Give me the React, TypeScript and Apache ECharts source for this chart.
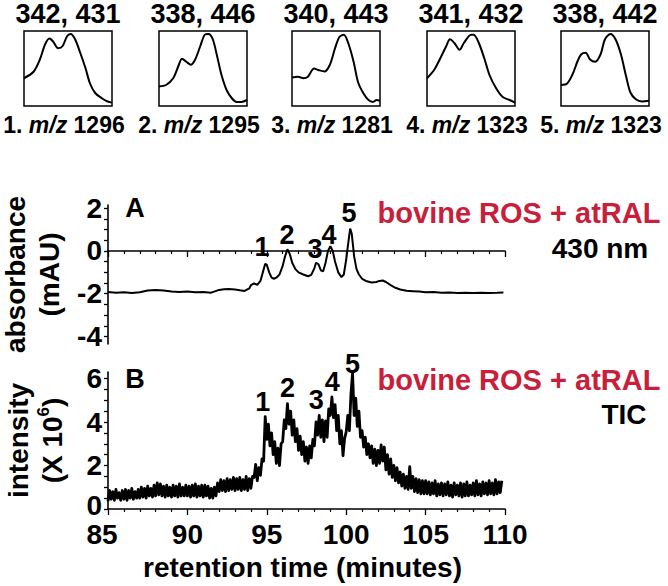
import React, { useEffect, useRef } from "react";
import * as echarts from "echarts";

// ---------- data ----------
// Panel A: absorbance at 430 nm (mAU) vs retention time (min)
const ABS_TIME = [
  85.0, 85.5, 86.0, 86.5, 87.0, 87.5, 88.0, 88.5, 89.0, 89.5, 90.0, 90.5, 91.0, 91.5, 92.0, 92.3, 92.6, 93.0, 93.3,
  93.6, 93.9, 94.0, 94.2, 94.4, 94.6, 94.75, 94.9, 95.0, 95.15, 95.3, 95.45, 95.6, 95.8, 96.0, 96.15, 96.3, 96.45,
  96.6, 96.8, 97.0, 97.3, 97.6, 97.8, 98.0, 98.1, 98.25, 98.4, 98.55, 98.7, 98.85, 99.0, 99.15, 99.3, 99.5, 99.7,
  99.85, 100.0, 100.15, 100.25, 100.35, 100.5, 100.65, 100.8, 101.0, 101.3, 101.6, 101.9, 102.1, 102.3, 102.5,
  102.8, 103.1, 103.4, 103.8, 104.2, 104.6, 105.0, 105.5, 106.0, 106.5, 107.0, 107.5, 108.0, 108.5, 109.0, 109.5,
  109.9,
];
const ABS_VALUE = [
  -1.92, -1.95, -1.93, -1.96, -1.93, -1.85, -1.83, -1.85, -1.9, -1.92, -1.9, -1.93, -1.92, -1.95, -1.82, -1.79,
  -1.78, -1.8, -1.84, -1.87, -1.75, -1.6, -1.52, -1.58, -1.4, -1.0, -0.6, -0.65, -1.0, -1.25, -1.3, -1.25, -1.1,
  -0.7, -0.25, 0.08, -0.15, -0.55, -0.85, -1.0, -1.1, -1.18, -1.12, -0.8, -0.55, -0.62, -0.9, -0.95, -0.55, 0.0,
  0.22, 0.0, -0.5, -1.0, -1.22, -1.1, -0.4, 0.5, 1.05, 0.8, -0.25, -0.85, -1.1, -1.3, -1.42, -1.47, -1.45, -1.4,
  -1.38, -1.45, -1.6, -1.72, -1.8, -1.86, -1.88, -1.9, -1.93, -1.92, -1.95, -1.94, -1.96, -1.95, -1.97, -1.95,
  -1.96, -1.95, -1.94,
];

// Panel B: total ion current (x 10^6), sampled every 0.1 min from 85.0 min
const TIC_START = 85.0;
const TIC_STEP = 0.1;
const TIC_VALUE = [
  0.35, 0.85, 0.45, 0.8, 0.4, 0.9, 0.5, 0.75, 0.4, 0.85,
  0.45, 0.9, 0.4, 0.85, 0.5, 0.95, 0.45, 0.8, 0.5, 0.9,
  0.5, 1.0, 0.55, 0.95, 0.5, 1.05, 0.6, 0.95, 0.55, 1.1,
  0.6, 1.2, 0.65, 1.15, 0.6, 1.05, 0.55, 1.1, 0.6, 1.0,
  0.55, 1.1, 0.6, 1.05, 0.55, 1.15, 0.6, 1.0, 0.6, 1.1,
  0.6, 1.05, 0.55, 1.1, 0.6, 1.15, 0.55, 1.05, 0.6, 1.1,
  0.55, 1.1, 0.6, 1.05, 0.5, 0.95, 0.5, 1.0, 0.6, 1.2,
  0.8, 1.35, 0.85, 1.3, 0.8, 1.4, 0.85, 1.35, 0.9, 1.45,
  0.85, 1.4, 0.9, 1.45, 0.85, 1.35, 0.9, 1.5, 0.85, 1.4,
  0.95, 1.5, 1.45, 2.05, 1.3, 1.9, 1.55, 2.3, 2.2, 4.25,
  3.2, 3.9, 2.9, 3.5, 2.5, 3.1, 2.1, 2.8, 2.0, 3.0,
  3.1, 4.1, 3.7, 4.85, 3.9, 4.5, 3.4, 4.1, 3.1, 3.7,
  2.7, 3.35, 2.5, 3.1, 2.2, 2.85, 2.1, 2.9, 2.35, 3.2,
  2.9, 4.0, 3.4, 4.3, 3.3, 4.1, 3.1, 4.05, 3.3, 4.6,
  4.3, 5.15, 4.2, 4.8, 3.6, 4.3, 3.0, 3.6, 2.45, 3.25,
  3.55, 4.3, 3.6, 5.3, 6.25, 4.3, 5.1, 3.8, 4.5, 3.3,
  3.6, 2.85, 3.3, 2.5, 3.0, 2.35, 2.9, 2.1, 2.75, 2.0,
  2.7, 2.1, 2.95, 2.2, 2.85, 1.8, 2.5, 1.6, 2.3, 1.45,
  2.0, 1.3, 1.9, 1.2, 1.7, 1.05, 1.6, 0.95, 1.5, 0.9,
  1.95, 0.95, 1.5, 0.8, 1.4, 0.75, 1.35, 0.7, 1.3, 0.7,
  1.3, 0.7, 1.25, 0.65, 1.2, 0.7, 1.3, 0.6, 1.15, 0.65,
  1.2, 0.6, 1.15, 0.65, 1.25, 0.6, 1.1, 0.55, 1.2, 0.65,
  1.1, 0.6, 1.2, 0.55, 1.15, 0.6, 1.25, 0.6, 1.1, 0.65,
  1.2, 0.6, 1.3, 0.65, 1.15, 0.6, 1.25, 0.7, 1.2, 0.65,
  1.3, 0.7, 1.2, 0.65, 1.35, 0.7, 1.25, 0.75, 1.3,
];

// Peak numbering annotations (retention time, value)
const PEAK_NAMES = ["1", "2", "3", "4", "5"];
const PEAK_A_X = [94.7, 96.27, 98.04, 98.92, 100.18];
const PEAK_A_Y = [0.17, 0.77, 0.08, 0.77, 1.78];
const PEAK_B_X = [94.75, 96.3, 98.12, 99.12, 100.4];
const PEAK_B_Y = [4.93, 5.58, 5.02, 5.85, 6.68];

// Axis ticks / labels
const X_MIN = 85;
const X_MAX = 110;
const A_MIN = -4.35;
const A_MAX = 2.15;
const A_LABELS = [-4, -2, 0, 2];
const A_TICKS = [-4, -3.5, -3, -2.5, -2, -1.5, -1, -0.5, 0, 0.5, 1, 1.5, 2];
const B_MIN = 0;
const B_MAX = 6.3;
const B_LABELS = [0, 2, 4, 6];
const B_TICKS = [0, 0.5, 1, 1.5, 2, 2.5, 3, 3.5, 4, 4.5, 5, 5.5, 6];

// UV-vis spectra of the five peaks: [wavelength nm, normalised absorbance]
const SPEC_1 = [[240, 0.37], [280, 0.46], [305, 0.62], [326, 0.82], [344, 0.9], [359, 0.86], [380, 0.77], [398, 0.8], [416, 0.93], [431, 0.96], [449, 0.89], [470, 0.71], [492, 0.5], [510, 0.3], [532, 0.17], [560, 0.1], [582, 0.06], [600, 0.045]];
const SPEC_2 = [[240, 0.26], [269, 0.28], [298, 0.37], [319, 0.53], [334, 0.63], [352, 0.59], [370, 0.55], [388, 0.62], [409, 0.8], [427, 0.95], [442, 0.96], [460, 0.89], [478, 0.66], [496, 0.41], [517, 0.21], [539, 0.1], [557, 0.055], [578, 0.055], [600, 0.08]];
const SPEC_3 = [[240, 0.38], [265, 0.39], [287, 0.37], [305, 0.39], [330, 0.5], [348, 0.48], [373, 0.46], [395, 0.55], [416, 0.77], [434, 0.92], [452, 0.95], [470, 0.84], [492, 0.59], [510, 0.32], [532, 0.17], [553, 0.08], [571, 0.055], [586, 0.08], [600, 0.07]];
const SPEC_4 = [[240, 0.37], [269, 0.48], [298, 0.66], [319, 0.8], [334, 0.89], [352, 0.84], [373, 0.75], [391, 0.84], [420, 0.95], [431, 0.95], [452, 0.84], [474, 0.64], [496, 0.41], [524, 0.23], [550, 0.12], [578, 0.08], [600, 0.045]];
const SPEC_5 = [[240, 0.28], [265, 0.3], [287, 0.42], [308, 0.6], [323, 0.69], [341, 0.71], [359, 0.62], [380, 0.59], [402, 0.69], [420, 0.89], [442, 0.96], [463, 0.89], [485, 0.69], [506, 0.4], [524, 0.18], [546, 0.09], [571, 0.06], [600, 0.07]];
const SPECTRA = [SPEC_1, SPEC_2, SPEC_3, SPEC_4, SPEC_5];
const SPEC_TITLES = ["342, 431", "338, 446", "340, 443", "341, 432", "338, 442"];
const SPEC_MZ = ["1296", "1295", "1281", "1323", "1323"];

// ---------- layout / style ----------
const FONT = "'Liberation Sans', Arial, Helvetica, sans-serif";
const RED = "#c8203a";
const INSET_LEFT = [24, 159, 292, 427, 561];
const INSET_TOP = 31;
const INSET_W = 88;
const INSET_H = 75;

const boldText = (size: number) => ({
  color: "#000",
  fontSize: size,
  fontWeight: "bold" as const,
  fontFamily: FONT,
});

function buildOption() {
  const axisLine = { lineStyle: { color: "#000", width: 1.6 } };
  const tick = { lineStyle: { color: "#000", width: 1.3 } };

  const grids: any[] = [
    { left: 108, top: 205, width: 397, height: 139, outerBoundsMode: "none", containLabel: false },
    { left: 108, top: 372, width: 397, height: 137, outerBoundsMode: "none", containLabel: false },
  ];
  const xAxes: any[] = [
    {
      gridIndex: 0, type: "value", min: X_MIN, max: X_MAX, interval: 5,
      axisLine, axisTick: { ...tick, length: 6 },
      minorTick: { show: true, splitNumber: 5, length: 3, lineStyle: { color: "#000", width: 1.2 } },
      axisLabel: { show: false }, splitLine: { show: false },
    },
    {
      gridIndex: 1, type: "value", min: X_MIN, max: X_MAX, interval: 5,
      axisLine, axisTick: { ...tick, length: 6 },
      minorTick: { show: true, splitNumber: 5, length: 3, lineStyle: { color: "#000", width: 1.2 } },
      axisLabel: {
        ...boldText(28), margin: 11,
        alignMinLabel: "center", alignMaxLabel: "center",
        formatter: (v: number) => (v === X_MIN ? `{l|${v}}` : String(v)),
        rich: { l: { ...boldText(28), padding: [0, 12, 0, 0] } },
      },
      splitLine: { show: false },
      name: "retention time (minutes)", nameLocation: "middle", nameGap: 44,
      nameTextStyle: { ...boldText(28), padding: [0, 8, 0, 0] },
    },
  ];
  const yAxes: any[] = [
    {
      gridIndex: 0, type: "value", min: A_MIN, max: A_MAX,
      axisLine: { ...axisLine, show: true },
      axisTick: { ...tick, length: 4, customValues: A_TICKS },
      axisLabel: { ...boldText(28), margin: 6, customValues: A_LABELS },
      splitLine: { show: false },
      name: "absorbance\n(mAU)", nameLocation: "middle", nameGap: 40,
      nameTextStyle: { ...boldText(28), lineHeight: 34, align: "center" },
    },
    {
      gridIndex: 1, type: "value", min: B_MIN, max: B_MAX,
      axisLine: { ...axisLine, show: true },
      axisTick: { ...tick, length: 4, customValues: B_TICKS },
      axisLabel: {
        ...boldText(28), margin: 6, customValues: B_LABELS,
        formatter: (v: number) => (v === B_MIN ? `{z|${v}}` : String(v)),
        rich: { z: { ...boldText(28), padding: [0, 0, 8, 0] } },
      },
      splitLine: { show: false },
      name: "{a|intensity}\n{a|(X 10}{s|6}{a|)}", nameLocation: "middle", nameGap: 39,
      nameTextStyle: {
        ...boldText(28), lineHeight: 34, align: "center",
        rich: {
          a: { ...boldText(28), lineHeight: 34 },
          s: { ...boldText(17), lineHeight: 22, verticalAlign: "top" },
        },
      },
    },
  ];

  const peakLabel = {
    show: true, position: "inside", formatter: (p: any) => p.data[2],
    ...boldText(27), opacity: 1,
  };

  const series: any[] = [
    {
      type: "line", xAxisIndex: 0, yAxisIndex: 0, showSymbol: false, silent: true,
      data: ABS_TIME.map((t, i) => [t, ABS_VALUE[i]]),
      lineStyle: { color: "#000", width: 2 },
    },
    {
      type: "line", xAxisIndex: 1, yAxisIndex: 1, showSymbol: false, silent: true,
      data: TIC_VALUE.map((v, i) => [TIC_START + i * TIC_STEP, v]),
      lineStyle: { color: "#000", width: 2.8, join: "round" },
    },
    {
      type: "scatter", xAxisIndex: 0, yAxisIndex: 0, clip: false, silent: true,
      symbolSize: 1, itemStyle: { color: "rgba(0,0,0,0)", opacity: 1 },
      data: PEAK_NAMES.map((n, i) => [PEAK_A_X[i], PEAK_A_Y[i], n]),
      label: peakLabel,
    },
    {
      type: "scatter", xAxisIndex: 1, yAxisIndex: 1, clip: false, silent: true,
      symbolSize: 1, itemStyle: { color: "rgba(0,0,0,0)", opacity: 1 },
      data: PEAK_NAMES.map((n, i) => [PEAK_B_X[i], PEAK_B_Y[i], n]),
      label: peakLabel,
    },
  ];

  const graphic: any[] = [];

  SPECTRA.forEach((spec, i) => {
    grids.push({
      left: INSET_LEFT[i], top: INSET_TOP, width: INSET_W, height: INSET_H,
      show: true, borderColor: "#000", borderWidth: 1.5, backgroundColor: "transparent",
      outerBoundsMode: "none", containLabel: false,
    });
    xAxes.push({ gridIndex: 2 + i, type: "value", min: 240, max: 600, show: false });
    yAxes.push({ gridIndex: 2 + i, type: "value", min: 0, max: 1, show: false });
    series.push({
      type: "line", xAxisIndex: 2 + i, yAxisIndex: 2 + i, showSymbol: false, silent: true,
      smooth: 0.3, data: spec, lineStyle: { color: "#000", width: 2 },
    });
    const cx = INSET_LEFT[i] + INSET_W / 2;
    graphic.push({
      type: "text", x: cx, y: 14,
      style: { text: SPEC_TITLES[i], fill: "#000", font: `bold 27px ${FONT}`, align: "center", verticalAlign: "middle" },
    });
    graphic.push({
      type: "text", x: cx - 4, y: 125,
      style: {
        text: `{n|${i + 1}. }{i|m/z}{n| ${SPEC_MZ[i]}}`,
        align: "center", verticalAlign: "middle", fill: "#000", font: `bold 23px ${FONT}`,
        rich: {
          n: { fill: "#000", font: `bold 23px ${FONT}` },
          i: { fill: "#000", font: `italic bold 23px ${FONT}` },
        },
      },
    });
  });

  graphic.push(
    { type: "text", x: 135, y: 208, style: { text: "A", fill: "#000", font: `bold 27px ${FONT}`, align: "center", verticalAlign: "middle" } },
    { type: "text", x: 135, y: 379, style: { text: "B", fill: "#000", font: `bold 27px ${FONT}`, align: "center", verticalAlign: "middle" } },
    { type: "text", x: 519, y: 213, style: { text: "bovine ROS + atRAL", fill: RED, font: `bold 29px ${FONT}`, align: "center", verticalAlign: "middle" } },
    { type: "text", x: 600, y: 248, style: { text: "430 nm", fill: "#000", font: `bold 28px ${FONT}`, align: "center", verticalAlign: "middle" } },
    { type: "text", x: 519, y: 380, style: { text: "bovine ROS + atRAL", fill: RED, font: `bold 29px ${FONT}`, align: "center", verticalAlign: "middle" } },
    { type: "text", x: 624, y: 414, style: { text: "TIC", fill: "#000", font: `bold 28px ${FONT}`, align: "center", verticalAlign: "middle" } },
  );

  return {
    animation: false,
    backgroundColor: "#fff",
    textStyle: { fontFamily: FONT },
    grid: grids,
    xAxis: xAxes,
    yAxis: yAxes,
    series,
    graphic,
  };
}

export default function App() {
  const ref = useRef<HTMLDivElement>(null);
  useEffect(() => {
    if (!ref.current) return;
    const chart = echarts.init(ref.current, null, { renderer: "svg" });
    chart.setOption(buildOption() as any);
    return () => chart.dispose();
  }, []);
  return (
    <div
      ref={ref}
      style={{ position: "fixed", left: 0, top: 0, width: 668, height: 586, background: "#fff" }}
    />
  );
}
